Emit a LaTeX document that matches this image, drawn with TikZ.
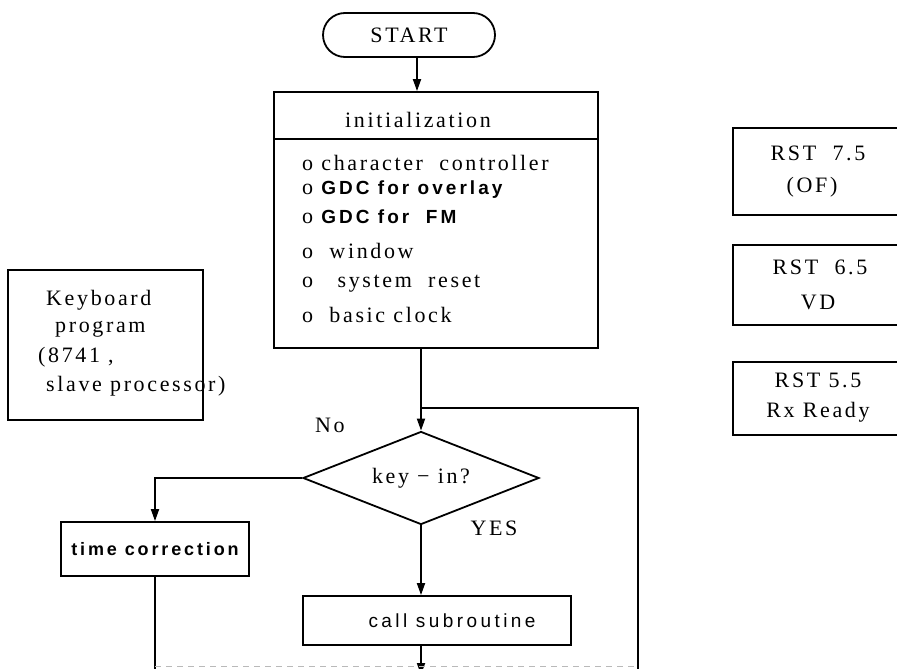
\documentclass[tikz,border=0pt]{standalone}
\usepackage{fontspec}
\setmainfont{Liberation Serif}
\newfontfamily\tw[LetterSpace=12]{Liberation Serif}
\newfontfamily\bsf[LetterSpace=16]{Liberation Sans}
\newfontfamily\ssf[LetterSpace=18]{Liberation Sans}
\usetikzlibrary{arrows.meta,shapes.geometric}
\tikzset{
  ln/.style={line width=1.8pt},
  box/.style={draw, line width=1.8pt, inner sep=0pt},
  lbl/.style={inner sep=0pt, font=\tw\fontsize{22}{26}\selectfont},
  bold/.style={inner sep=0pt, font=\bsf\bfseries\fontsize{18}{20}\selectfont},
  arr/.style={line width=1.8pt, -{Triangle[length=12pt,width=8pt]}},
}
\begin{document}
\begin{tikzpicture}[x=1pt,y=-1pt]
\useasboundingbox (0,0) rectangle (897,669);
\clip (0,0) rectangle (897,669);

% START
\node[box, rounded corners=22pt, minimum width=172pt, minimum height=44pt,
      font=\tw\fontsize{22}{26}\selectfont] (start) at (409,35) {START};

% initialization box
\node[box, minimum width=324pt, minimum height=256pt] (init) at (436,220) {};
\coordinate (hl) at (0,139);
\draw[ln] (init.west |- hl) -- (init.east |- hl);
\node[lbl] (ttl) at (418,120) {initialization};
\node[lbl, anchor=west] (i1) at (302,163) {o character~~controller};
\node[lbl, anchor=west] (i2) at (302,190) {o {\bsf\bfseries\fontsize{19}{21}\selectfont GDC for overlay}};
\node[lbl, anchor=west] (i3) at (302,217) {o {\bsf\bfseries\fontsize{19}{21}\selectfont GDC for~~FM}};
\node[lbl, anchor=west] (i4) at (302,251) {o~~window};
\node[lbl, anchor=west] (i5) at (302,284) {o~~~system~~reset};
\node[lbl, anchor=west] (i6) at (302,315) {o~~basic clock};

% keyboard box
\node[box, minimum width=195pt, minimum height=150pt] (kb) at (105.5,345) {};
\node[lbl, anchor=west] (k1) at (46,300) {Keyboard};
\node[lbl, anchor=west] (k2) at (55,329) {program};
\node[lbl, anchor=west] (k3) at (38,357) {(8741 ,};
\node[lbl, anchor=west] (k4) at (46,386) {slave processor)};

% RST boxes (cut by the right edge)
\node[box, minimum width=200pt, minimum height=87pt] (r1) at (833,171.5) {};
\node[lbl] (r1a) at (818,153) {RST~~7.5};
\node[lbl] (r1b) at (812,187) {(OF)};
\node[box, minimum width=200pt, minimum height=80pt] (r2) at (833,285) {};
\node[lbl] (r2a) at (820,267) {RST~~6.5};
\node[lbl] (r2b) at (818,302) {VD};
\node[box, minimum width=200pt, minimum height=73pt] (r3) at (833,398.5) {};
\node[lbl] (r3a) at (818,380) {RST~5.5};
\node[lbl] (r3b) at (818,412) {Rx Ready};

% decision
\node[draw, diamond, line width=1.8pt, aspect=2.54, minimum width=236pt, minimum height=93pt,
      lbl] (dia) at (421,478) {key − in?};
\node[lbl] (no) at (330,425) {No};
\node[lbl] (yes) at (494,528) {YES};

% time correction
\node[box, bold, minimum width=188pt, minimum height=54pt] (time) at (155,549) {time correction};

% call subroutine
\node[box, minimum width=268pt, minimum height=49pt,
      font=\ssf\fontsize{19}{22}\selectfont] (call) at (437,620.5) {\hspace*{30pt}call subroutine};

% connectors
\coordinate (a1) at (417,0);
\draw[arr] (start.south -| a1) -- (init.north -| a1);
\draw[arr] (init.south -| dia.north) -- (dia.north);
\coordinate (lb) at (638,669);
\coordinate (j) at (421,408);
\draw[ln] (lb) |- (j);
\draw[arr] (dia.west) -| (time.north);
\draw[arr] (dia.south) -- (call.north -| dia.south);
\coordinate (tb) at (155,669);
\draw[ln] (time.south) -- (tb);
\coordinate (cb) at (421,675);
\draw[arr] (call.south -| dia.south) -- (cb);
\coordinate (fl) at (0,666);
\draw[gray!55, line width=0.8pt, dash pattern=on 6pt off 5pt] (tb |- fl) -- (lb |- fl);
\end{tikzpicture}
\end{document}
